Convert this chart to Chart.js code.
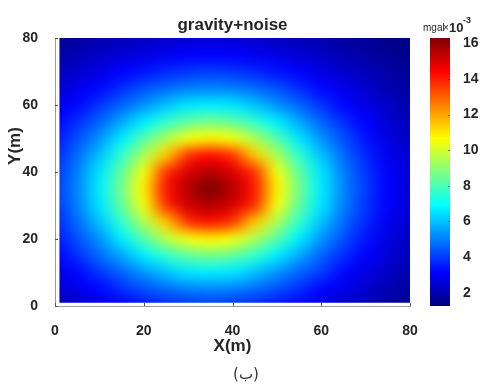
<!DOCTYPE html>
<html>
<head>
<meta charset="utf-8">
<script src="https://cdn.jsdelivr.net/npm/chart.js@4.4.1/dist/chart.umd.min.js"></script>
<style>
  html, body { margin: 0; padding: 0; background: #fff; }
  #gravityChart { display: block; }
</style>
</head>
<body>
<canvas id="gravityChart" width="491" height="386"></canvas>
<script>
// survey grid (m)
const xs = [0, 5, 10, 15, 20, 25, 30, 35, 40, 45, 50, 55, 60, 65, 70, 75, 80];
const ys = [80, 75, 70, 65, 60, 55, 50, 45, 40, 35, 30, 25, 20, 15, 10, 5, 0];

// gravity + noise (mgal x 10^-3), one row per y, top row is y = 80
const gravity = [
  [1.6, 1.7, 1.9, 2.1, 2.2, 2.4, 2.5, 2.5, 2.5, 2.4, 2.2, 2.1, 1.9, 1.7, 1.6, 1.4, 1.3],
  [1.8, 2.0, 2.3, 2.5, 2.7, 2.9, 3.1, 3.1, 3.1, 2.9, 2.7, 2.5, 2.3, 2.0, 1.8, 1.6, 1.4],
  [2.1, 2.4, 2.7, 3.1, 3.4, 3.7, 3.9, 4.0, 3.9, 3.7, 3.4, 3.1, 2.7, 2.4, 2.1, 1.8, 1.6],
  [2.4, 2.8, 3.2, 3.8, 4.3, 4.7, 5.0, 5.1, 5.0, 4.7, 4.3, 3.8, 3.2, 2.8, 2.4, 2.0, 1.7],
  [2.7, 3.2, 3.9, 4.6, 5.3, 6.0, 6.5, 6.6, 6.5, 6.0, 5.3, 4.6, 3.9, 3.2, 2.7, 2.3, 1.9],
  [3.1, 3.8, 4.6, 5.6, 6.6, 7.6, 8.3, 8.6, 8.3, 7.6, 6.6, 5.6, 4.6, 3.8, 3.1, 2.5, 2.1],
  [3.4, 4.3, 5.3, 6.6, 8.1, 9.4, 10.4, 10.9, 10.4, 9.4, 8.1, 6.5, 5.3, 4.3, 3.4, 2.7, 2.2],
  [3.7, 4.7, 6.0, 7.6, 9.4, 11.5, 13.6, 14.2, 13.6, 11.5, 9.4, 7.6, 6.0, 4.7, 3.7, 2.9, 2.4],
  [3.9, 5.0, 6.5, 8.3, 10.4, 13.6, 15.0, 15.5, 14.9, 13.6, 10.4, 8.3, 6.5, 5.0, 3.9, 3.1, 2.5],
  [4.0, 5.1, 6.6, 8.6, 10.9, 14.1, 15.5, 16.3, 15.5, 14.0, 10.9, 8.6, 6.6, 5.1, 4.0, 3.1, 2.5],
  [3.9, 5.0, 6.5, 8.3, 10.4, 13.6, 15.1, 15.5, 15.0, 13.6, 10.4, 8.3, 6.5, 5.0, 3.9, 3.1, 2.5],
  [3.7, 4.7, 6.0, 7.6, 9.4, 11.5, 13.6, 14.1, 13.5, 11.5, 9.4, 7.6, 6.0, 4.7, 3.7, 2.9, 2.4],
  [3.4, 4.3, 5.3, 6.6, 8.1, 9.5, 10.4, 10.9, 10.4, 9.4, 8.1, 6.6, 5.3, 4.3, 3.4, 2.7, 2.2],
  [3.1, 3.8, 4.7, 5.6, 6.6, 7.6, 8.3, 8.6, 8.3, 7.6, 6.6, 5.6, 4.6, 3.8, 3.1, 2.5, 2.1],
  [2.7, 3.2, 3.9, 4.6, 5.3, 6.0, 6.5, 6.6, 6.5, 6.0, 5.3, 4.6, 4.0, 3.2, 2.7, 2.3, 1.9],
  [2.4, 2.8, 3.2, 3.8, 4.3, 4.7, 5.0, 5.1, 5.0, 4.7, 4.3, 3.8, 3.2, 2.8, 2.4, 2.0, 1.7],
  [2.1, 2.4, 2.7, 3.1, 3.4, 3.7, 3.9, 4.0, 3.9, 3.7, 3.4, 3.1, 2.7, 2.4, 2.1, 1.8, 1.6]
];

const axisTicks = [0, 20, 40, 60, 80];
const colorbarTicks = [2, 4, 6, 8, 10, 12, 14, 16];
const colorRange = [1.25, 16.3];

const FONT = "'Liberation Sans', Arial, Helvetica, sans-serif";
const TEXT = '#262626';

// matlab style jet colormap
function jet(v) {
  const t = Math.min(1, Math.max(0, (v - colorRange[0]) / (colorRange[1] - colorRange[0])));
  const ch = k => Math.round(255 * Math.min(1, Math.max(0, 1.5 - Math.abs(4 * t - k))));
  return [ch(3), ch(2), ch(1)];
}

const points = [];
ys.forEach((y, r) => xs.forEach((x, c) => points.push({ x: x, y: y, v: gravity[r][c] })));

// paints the grid as a smooth image inside the plot area
const heatmapPlugin = {
  id: 'heatmap',
  beforeDatasetsDraw(chart) {
    const { ctx, scales: { x, y } } = chart;
    const off = document.createElement('canvas');
    off.width = xs.length;
    off.height = ys.length;
    const octx = off.getContext('2d');
    const img = octx.createImageData(xs.length, ys.length);
    gravity.forEach((row, r) => row.forEach((v, c) => {
      const [R, G, B] = jet(v);
      const k = (r * xs.length + c) * 4;
      img.data[k] = R; img.data[k + 1] = G; img.data[k + 2] = B; img.data[k + 3] = 255;
    }));
    octx.putImageData(img, 0, 0);

    const hx = (xs[1] - xs[0]) / 2, hy = (ys[0] - ys[1]) / 2;
    const left = x.getPixelForValue(xs[0] - hx);
    const right = x.getPixelForValue(xs[xs.length - 1] + hx);
    const top = y.getPixelForValue(ys[0] + hy);
    const bottom = y.getPixelForValue(ys[ys.length - 1] - hy);

    // measured area starts at 1 m on both axes
    const cx0 = x.getPixelForValue(1), cx1 = x.getPixelForValue(80);
    const cy0 = y.getPixelForValue(80), cy1 = y.getPixelForValue(1);

    ctx.save();
    ctx.beginPath();
    ctx.rect(cx0, cy0, cx1 - cx0, cy1 - cy0);
    ctx.clip();
    ctx.imageSmoothingEnabled = true;
    ctx.imageSmoothingQuality = 'high';
    ctx.drawImage(off, left, top, right - left, bottom - top);
    ctx.restore();
  }
};

// title, colorbar, inward ticks and the extra labels
const decorPlugin = {
  id: 'decor',
  afterDraw(chart) {
    const { ctx, chartArea, scales: { x, y, cb } } = chart;
    ctx.save();

    // title
    ctx.fillStyle = TEXT;
    ctx.font = `bold 17px ${FONT}`;
    ctx.textAlign = 'center';
    ctx.textBaseline = 'middle';
    ctx.fillText('gravity+noise', (chartArea.left + chartArea.right) / 2, 25);

    // inward tick marks
    ctx.strokeStyle = '#555';
    ctx.lineWidth = 1;
    axisTicks.forEach(t => {
      const px = Math.round(x.getPixelForValue(t)) + 0.5;
      ctx.beginPath(); ctx.moveTo(px, x.top); ctx.lineTo(px, x.top - 3); ctx.stroke();
      const py = Math.round(y.getPixelForValue(t)) + 0.5;
      ctx.beginPath(); ctx.moveTo(y.right, py); ctx.lineTo(y.right + 3, py); ctx.stroke();
    });

    // colorbar
    const barL = cb.left + 20, barR = cb.left + 40;
    const barT = cb.getPixelForValue(colorRange[1]);
    const barB = cb.getPixelForValue(colorRange[0]);
    const grad = ctx.createLinearGradient(0, barB, 0, barT);
    [0, 0.125, 0.375, 0.625, 0.875, 1].forEach(s => {
      const [R, G, B] = jet(colorRange[0] + s * (colorRange[1] - colorRange[0]));
      grad.addColorStop(s, `rgb(${R},${G},${B})`);
    });
    ctx.fillStyle = grad;
    ctx.fillRect(barL, barT, barR - barL, barB - barT);
    ctx.strokeStyle = 'rgba(40,40,40,0.6)';
    colorbarTicks.forEach(t => {
      const py = Math.round(cb.getPixelForValue(t)) + 0.5;
      ctx.beginPath(); ctx.moveTo(barR, py); ctx.lineTo(barR - 2, py); ctx.stroke();
    });

    // unit label above the colorbar
    ctx.fillStyle = TEXT;
    ctx.textBaseline = 'alphabetic';
    ctx.textAlign = 'left';
    ctx.font = `10px ${FONT}`;
    ctx.fillText('mgal', barL - 7, 31);
    ctx.fillText('\u00d7', barL + 13, 31);
    ctx.font = `bold 13px ${FONT}`;
    ctx.fillText('10', barL + 19, 32);
    ctx.font = `bold 9px ${FONT}`;
    ctx.fillText('-3', barL + 33, 23);

    // y axis title
    ctx.save();
    ctx.translate(15, 146);
    ctx.rotate(-Math.PI / 2);
    ctx.font = `bold 17px ${FONT}`;
    ctx.textAlign = 'center';
    ctx.textBaseline = 'middle';
    ctx.fillText('Y(m)', 0, 0);
    ctx.restore();

    // figure caption
    ctx.font = `15px 'DejaVu Sans', sans-serif`;
    ctx.textAlign = 'center';
    ctx.textBaseline = 'middle';
    ctx.fillStyle = '#333';
    ctx.fillText('(ب)', 246, 375);
    ctx.restore();
  }
};

const tickFont = { family: FONT, size: 14, weight: 'bold' };

new Chart(document.getElementById('gravityChart').getContext('2d'), {
  type: 'scatter',
  data: {
    datasets: [{
      label: 'gravity+noise',
      data: points,
      pointRadius: 0,
      pointHoverRadius: 0
    }]
  },
  options: {
    responsive: false,
    animation: false,
    layout: { padding: { top: 38, left: 0, right: 0, bottom: 0 } },
    plugins: {
      legend: { display: false },
      tooltip: { enabled: false },
      title: { display: false }
    },
    scales: {
      x: {
        type: 'linear',
        min: 0,
        max: 80,
        afterBuildTicks: s => { s.ticks = axisTicks.map(v => ({ value: v })); },
        afterFit: s => { s.height = 80; },
        grid: { display: false },
        border: { color: '#999', width: 1 },
        ticks: { padding: 9, color: TEXT, font: tickFont, maxRotation: 0 },
        title: {
          display: true,
          text: 'X(m)',
          color: TEXT,
          font: { family: FONT, size: 17, weight: 'bold' },
          padding: { top: 0, bottom: 29 }
        }
      },
      y: {
        type: 'linear',
        min: 0,
        max: 80,
        afterBuildTicks: s => { s.ticks = axisTicks.map(v => ({ value: v })); },
        afterFit: s => { s.width = 55; s.paddingTop = 0; s.paddingBottom = 0; },
        grid: { display: false },
        border: { color: '#999', width: 1 },
        ticks: { padding: 9, color: TEXT, font: tickFont }
      },
      cb: {
        type: 'linear',
        position: 'right',
        min: colorRange[0],
        max: colorRange[1],
        afterBuildTicks: s => { s.ticks = colorbarTicks.map(v => ({ value: v })); },
        afterFit: s => { s.width = 81; s.paddingTop = 0; s.paddingBottom = 0; },
        grid: { display: false },
        border: { display: false },
        ticks: { padding: 45, color: TEXT, font: tickFont }
      }
    }
  },
  plugins: [heatmapPlugin, decorPlugin]
});
</script>
</body>
</html>
